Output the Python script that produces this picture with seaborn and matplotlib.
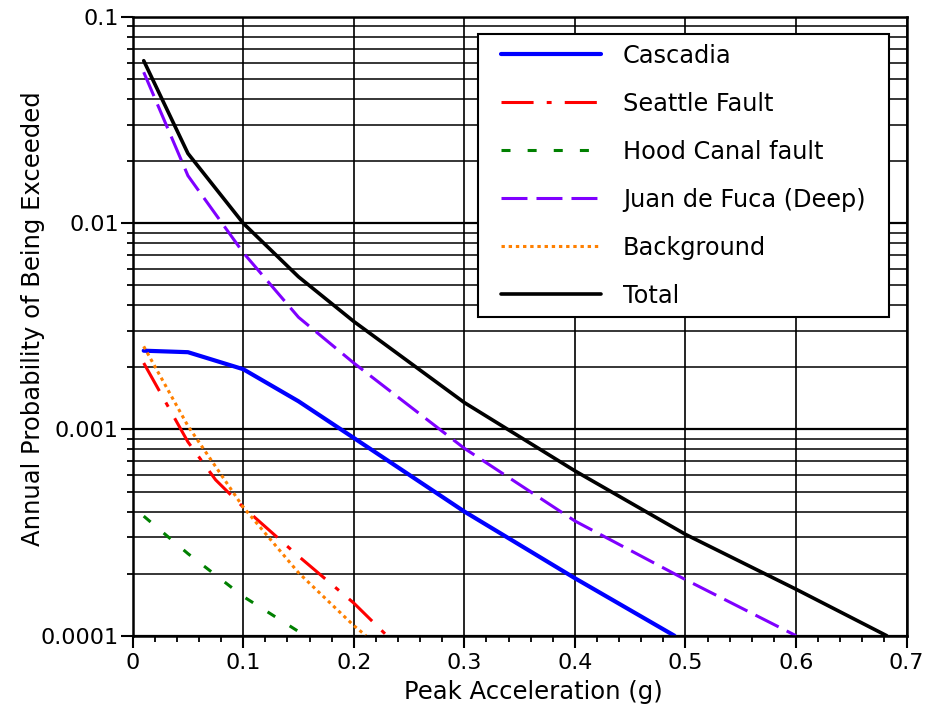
import numpy as np
import pandas as pd
import matplotlib
matplotlib.use("Agg")
import matplotlib.pyplot as plt
import seaborn as sns
from matplotlib.lines import Line2D
from matplotlib.legend_handler import HandlerLine2D
from matplotlib.ticker import LogLocator, MultipleLocator, NullFormatter

# hazard curves: peak acceleration (g) vs annual probability
x_cascadia = [0.01, 0.05, 0.1, 0.15, 0.2, 0.3, 0.4, 0.49]
p_cascadia = [0.00241, 0.00237, 0.00196, 0.00137, 0.00091, 0.0004, 0.00019, 0.0001]

x_seattle = [0.01, 0.05, 0.075, 0.1, 0.15, 0.2, 0.23]
p_seattle = [0.0021, 0.00087, 0.00057, 0.00042, 0.000243, 0.000144, 0.0001]

x_hood = [0.01, 0.05, 0.1, 0.156]
p_hood = [0.00038, 0.00025, 0.000155, 0.0001]

x_jdf = [0.01, 0.05, 0.1, 0.15, 0.2, 0.3, 0.4, 0.5, 0.6]
p_jdf = [0.054, 0.017, 0.0072, 0.0035, 0.0021, 0.00081, 0.00036, 0.000187, 0.0001]

x_background = [0.01, 0.05, 0.1, 0.15, 0.2, 0.211]
p_background = [0.00253, 0.00104, 0.00042, 0.000202, 0.000112, 0.0001]

x_total = [0.01, 0.05, 0.1, 0.15, 0.2, 0.3, 0.4, 0.5, 0.6, 0.682]
p_total = [0.0614, 0.0218, 0.01, 0.0055, 0.00334, 0.00135, 0.00063, 0.00031, 0.000168, 0.0001]

sources = ["Cascadia", "Seattle Fault", "Hood Canal fault",
           "Juan de Fuca (Deep)", "Background", "Total"]
x_ticks = [0, 0.1, 0.2, 0.3, 0.4, 0.5, 0.6, 0.7]
x_tick_labels = ["0", "0.1", "0.2", "0.3", "0.4", "0.5", "0.6", "0.7"]
y_ticks = [0.0001, 0.001, 0.01, 0.1]
y_tick_labels = ["0.0001", "0.001", "0.01", "0.1"]

# long table for seaborn
curves = [(x_cascadia, p_cascadia), (x_seattle, p_seattle), (x_hood, p_hood),
          (x_jdf, p_jdf), (x_background, p_background), (x_total, p_total)]
df = pd.concat([pd.DataFrame({"pga": xs, "prob": ps, "source": name})
                for name, (xs, ps) in zip(sources, curves)], ignore_index=True)

# line look per source
styles = {
    "Cascadia": dict(color="#0000ff", lw=3.0, ls="-", solid_capstyle="round"),
    "Seattle Fault": dict(color="#ff0000", lw=2.2, ls=(0, (10.5, 4.3, 1.6, 4.3))),
    "Hood Canal fault": dict(color="#008000", lw=2.2, ls=(0, (2.95, 5.6))),
    "Juan de Fuca (Deep)": dict(color="#7f00ff", lw=2.2, ls=(0, (8.5, 2.95))),
    "Background": dict(color="#ff8000", lw=2.2, ls=(0, (1.1, 1.25))),
    "Total": dict(color="black", lw=2.6, ls="-", solid_capstyle="round"),
}

sns.set_theme(style="ticks")
plt.rcParams["font.family"] = ["DejaVu Sans"]
plt.rcParams["text.color"] = "black"
plt.rcParams["axes.labelcolor"] = "black"
plt.rcParams["xtick.color"] = "black"
plt.rcParams["ytick.color"] = "black"

fig = plt.figure(figsize=(9.29, 7.15), dpi=100)
ax = fig.add_axes([0.1428, 0.1109, 0.8331, 0.8653])

for name in sources:
    st = styles[name]
    sns.lineplot(data=df[df["source"] == name], x="pga", y="prob", ax=ax,
                 label=name, estimator=None, color=st["color"], linewidth=st["lw"],
                 linestyle=st["ls"], **({"solid_capstyle": st["solid_capstyle"]}
                                        if "solid_capstyle" in st else {}))

ax.set_yscale("log")
ax.set_xlim(0, 0.7)
ax.set_ylim(0.0001, 0.1)

ax.set_xticks(x_ticks, labels=x_tick_labels)
ax.xaxis.set_minor_locator(MultipleLocator(0.02))
ax.set_yticks(y_ticks, labels=y_tick_labels)
ax.yaxis.set_minor_locator(LogLocator(base=10, subs=np.arange(2, 10)))
ax.yaxis.set_minor_formatter(NullFormatter())

ax.set_axisbelow(True)
ax.grid(which="major", axis="x", color="black", lw=1.2)
ax.grid(which="major", axis="y", color="black", lw=1.6)
ax.grid(which="minor", axis="y", color="black", lw=1.1)

for sp in ax.spines.values():
    sp.set_color("black")
    sp.set_linewidth(1.8)

ax.tick_params(which="major", direction="out", length=8.5, width=1.5,
               color="black", labelsize=16, labelcolor="black")
ax.tick_params(which="minor", direction="out", length=4.5, width=1.3, color="black")
ax.tick_params(axis="x", which="major", pad=4)
ax.tick_params(axis="y", which="major", pad=1.5)
ax.tick_params(top=False, right=False, which="both")

ax.set_xlabel("Peak Acceleration (g)", fontsize=17.5, color="black")
ax.set_ylabel("Annual Probability of Being Exceeded", fontsize=17.5, color="black")
ax.xaxis.set_label_coords(0.518, -0.072)
ax.yaxis.set_label_coords(-0.113, 0.513)

# legend box stretched to the reference width, single column left aligned
leg = ax.legend(loc="upper left", bbox_to_anchor=(0.4465, 0.0, 0.531, 0.9725),
                mode="expand", borderaxespad=0,
                fontsize=17.3, frameon=True, fancybox=False, framealpha=1,
                edgecolor="black", borderpad=0.4, labelspacing=1.0,
                handlelength=4.7, handletextpad=0.92,
                handler_map={Line2D: HandlerLine2D(xpad=0.56)})
leg.get_frame().set_linewidth(1.5)
for t in leg.get_texts():
    t.set_color("black")

fig.savefig("out.png", dpi=100)
